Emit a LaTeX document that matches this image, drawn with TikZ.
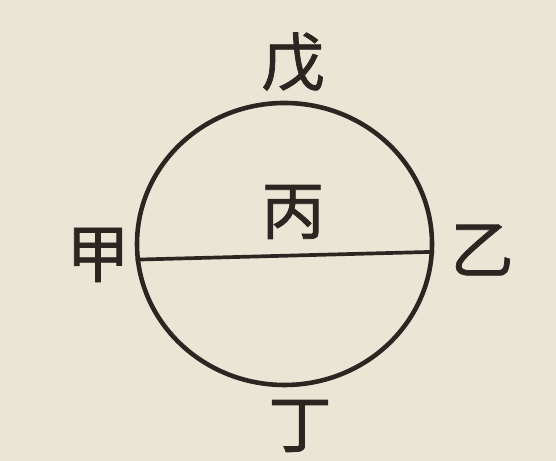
\documentclass[tikz,border=0pt]{standalone}
\usepackage{fontspec}
\newfontfamily\cjk[FakeBold=1.2]{Noto Sans CJK SC}
\usetikzlibrary{shapes.geometric}
\definecolor{paper}{HTML}{EAE6D6}
\definecolor{ink}{HTML}{2B2621}
\tikzset{
  rim/.style   = {ellipse, draw=ink, line width=2.6pt, minimum width=5.9cm,
                  minimum height=5.64cm, inner sep=0pt},
  chord/.style = {ink, line width=2.1pt},
  glyph/.style = {font=\cjk\fontsize{36}{36}\selectfont, text=ink, inner sep=0pt},
}
\begin{document}
\begin{tikzpicture}
  % paper
  \fill[paper] (0,0) rectangle (11.12,9.22);
  \useasboundingbox (0,0) rectangle (11.12,9.22);
  % circle with its diameter
  \node[rim] (o) at (5.69,4.34) {};
  \draw[chord] (o.186) -- (o.357);
  % labels
  \node[glyph] (wu)   at (5.86,7.98) {戊};
  \node[glyph] (bing) at (5.86,4.98) {丙};
  \node[glyph] (jia)  at (1.96,4.12) {甲};
  \node[glyph] (yi)   at (9.64,4.22) {乙};
  \node[glyph] (ding) at (6.00,0.70) {丁};
\end{tikzpicture}
\end{document}
